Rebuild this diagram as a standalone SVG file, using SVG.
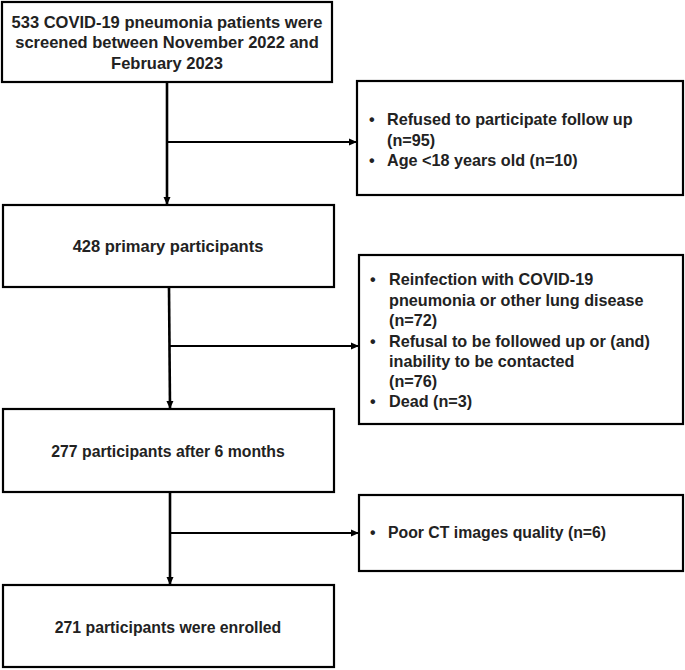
<svg xmlns="http://www.w3.org/2000/svg" width="685" height="670" viewBox="0 0 685 670">
<defs>
<marker id="ah" markerWidth="8" markerHeight="8" refX="7" refY="4" orient="auto" markerUnits="userSpaceOnUse">
<path d="M0,0.5 L8,4 L0,7.5 Z" fill="#000"/>
</marker>
<style>
.box{fill:#fff;stroke:#000;stroke-width:2.2}
.t{font-family:"Liberation Sans",Arial,sans-serif;font-size:16.5px;font-weight:bold;fill:#222}
.e{font-size:16.2px}
.tc{text-anchor:middle}
.n{font-size:15.8px}
.ln{stroke:#000;stroke-width:2.6;fill:none}
.lt{stroke:#000;stroke-width:1.8;fill:none}
</style>
</defs>
<rect width="685" height="670" fill="#fff"/>
<g id="connectors">
<line class="ln" x1="167" y1="83" x2="167" y2="204" marker-end="url(#ah)"/>
<line class="lt" x1="168" y1="142" x2="356" y2="142" marker-end="url(#ah)"/>
<line class="ln" x1="169" y1="288" x2="170" y2="408" marker-end="url(#ah)"/>
<line class="lt" x1="170" y1="346" x2="358" y2="346" marker-end="url(#ah)"/>
<line class="ln" x1="170" y1="493" x2="170" y2="584" marker-end="url(#ah)"/>
<line class="lt" x1="171" y1="533" x2="358" y2="533" marker-end="url(#ah)"/>
</g>
<g id="n1">
<rect class="box" x="2" y="2" width="330" height="80"/>
<text class="t tc" x="167" y="28">533 COVID-19 pneumonia patients were</text>
<text class="t tc" x="167" y="48">screened between November 2022 and</text>
<text class="t tc" x="167" y="69">February 2023</text>
</g>
<g id="e1">
<rect class="box" x="357" y="81" width="326" height="114"/>
<text class="t e" x="369" y="125">•</text>
<text class="t e" x="387" y="125">Refused to participate follow up</text>
<text class="t e" x="387" y="146">(n=95)</text>
<text class="t e" x="369" y="166">•</text>
<text class="t e" x="387" y="166">Age &lt;18 years old (n=10)</text>
</g>
<g id="n2">
<rect class="box" x="3" y="205" width="331" height="82"/>
<text class="t tc" x="168" y="252">428 primary participants</text>
</g>
<g id="e2">
<rect class="box" x="359" y="255" width="324" height="169"/>
<text class="t e" x="370" y="285">•</text>
<text class="t e" x="389" y="285">Reinfection with COVID-19</text>
<text class="t e" x="389" y="306">pneumonia or other lung disease</text>
<text class="t e" x="389" y="326">(n=72)</text>
<text class="t e" x="370" y="347">•</text>
<text class="t e" x="389" y="347">Refusal to be followed up or (and)</text>
<text class="t e" x="389" y="367">inability to be contacted</text>
<text class="t e" x="389" y="387">(n=76)</text>
<text class="t e" x="370" y="407">•</text>
<text class="t e" x="389" y="407">Dead (n=3)</text>
</g>
<g id="n3">
<rect class="box" x="3" y="409" width="331" height="83"/>
<text class="t tc n" x="168" y="457">277 participants after 6 months</text>
</g>
<g id="e3">
<rect class="box" x="359" y="495" width="324" height="76"/>
<text class="t n" x="370" y="538">•</text>
<text class="t n" x="388" y="538">Poor CT images quality (n=6)</text>
</g>
<g id="n4">
<rect class="box" x="3" y="585" width="331" height="82"/>
<text class="t tc n" x="168" y="633">271 participants were enrolled</text>
</g>
</svg>
